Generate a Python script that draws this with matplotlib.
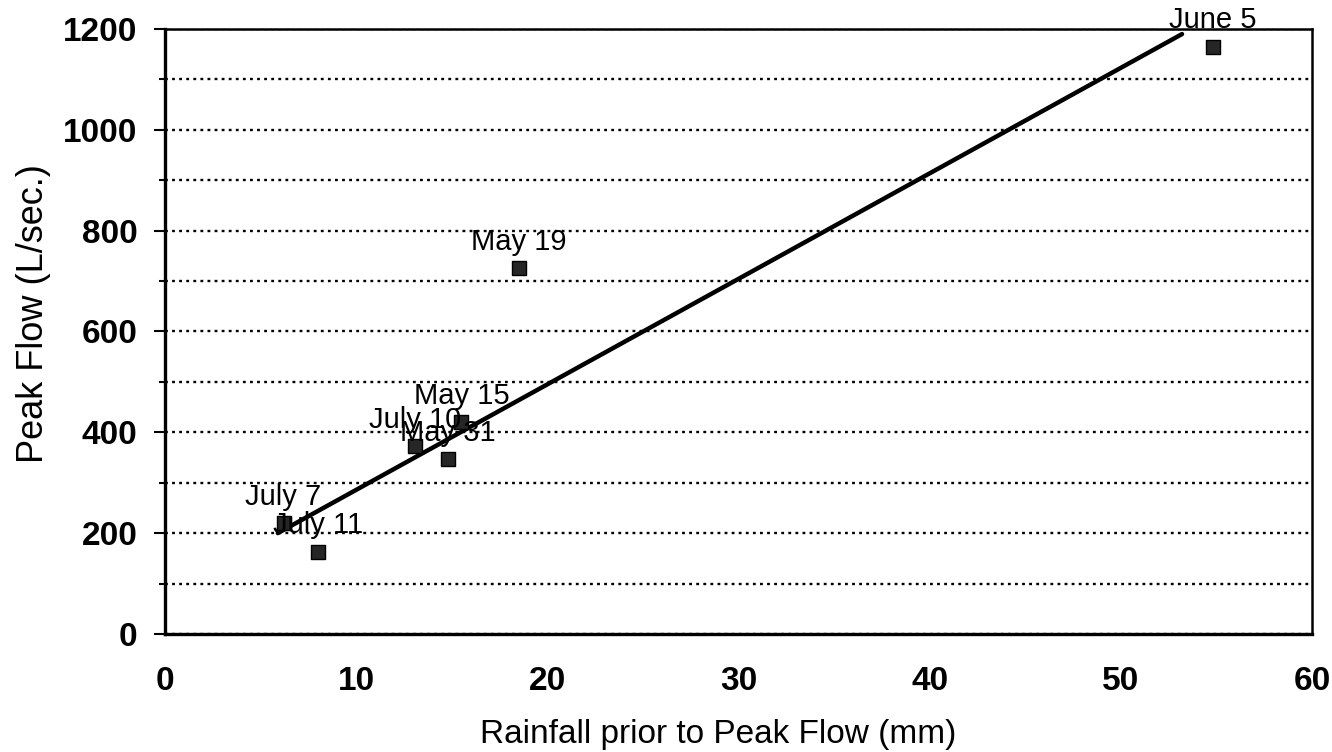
import matplotlib
matplotlib.use("Agg")
import matplotlib.pyplot as plt
from matplotlib.ticker import MultipleLocator

plt.rcParams['font.family'] = ['Liberation Sans', 'DejaVu Sans']

# Data
dates = ["June 5", "May 19", "May 15", "July 10", "May 31", "July 7", "July 11"]
rainfall_mm = [54.8, 18.5, 15.5, 13.1, 14.8, 6.2, 8.0]
peak_flow = [1165, 726, 420, 373, 347, 220, 163]

# Trend line end points (as drawn)
trend_x = [5.9, 53.2]
trend_y = [200, 1190]

x_ticks = [0, 10, 20, 30, 40, 50, 60]
y_ticks = [0, 200, 400, 600, 800, 1000, 1200]

fig = plt.figure(figsize=(13.32, 7.52), dpi=100)
ax = fig.add_axes([0.1239, 0.157, 0.985 - 0.1239, 0.9614 - 0.157])

ax.set_xlim(0, 60)
ax.set_ylim(0, 1200)
ax.set_xticks(x_ticks)
ax.set_yticks(y_ticks)
ax.yaxis.set_minor_locator(MultipleLocator(100))
ax.grid(axis='y', which='both', color='black', linestyle=(0, (1.2, 1.8)), linewidth=1.7)
ax.set_axisbelow(True)

ax.plot(trend_x, trend_y, color='black', linewidth=3.2, solid_capstyle='round', zorder=3)
ax.scatter(rainfall_mm, peak_flow, marker='s', s=110, facecolor='#262626',
           edgecolor='black', linewidth=1, zorder=4)

for d, x, y in zip(dates, rainfall_mm, peak_flow):
    ax.annotate(d, (x, y), xytext=(0, 19), textcoords='offset points',
                ha='center', va='center', fontsize=21, color='black', zorder=5)

for side in ['left', 'bottom']:
    ax.spines[side].set_linewidth(2.4)
for side in ['top', 'right']:
    ax.spines[side].set_linewidth(1.8)

ax.tick_params(axis='both', which='major', labelsize=24, width=1.5, length=8,
               direction='out', pad=12)
ax.tick_params(axis='y', which='minor', width=1.5, length=4, direction='out')
ax.tick_params(axis='x', which='major', length=0, pad=23)
for lab in ax.get_xticklabels() + ax.get_yticklabels():
    lab.set_fontweight('bold')

ax.set_xlabel("Rainfall prior to Peak Flow (mm)", fontsize=24, va='center', ha='center')
ax.set_ylabel("Peak Flow (L/sec.)", fontsize=26, va='center', ha='center')
ax.xaxis.set_label_coords(0.482, -0.167)
ax.yaxis.set_label_coords(-0.115, 0.529)

fig.savefig("out.png", dpi=100)
